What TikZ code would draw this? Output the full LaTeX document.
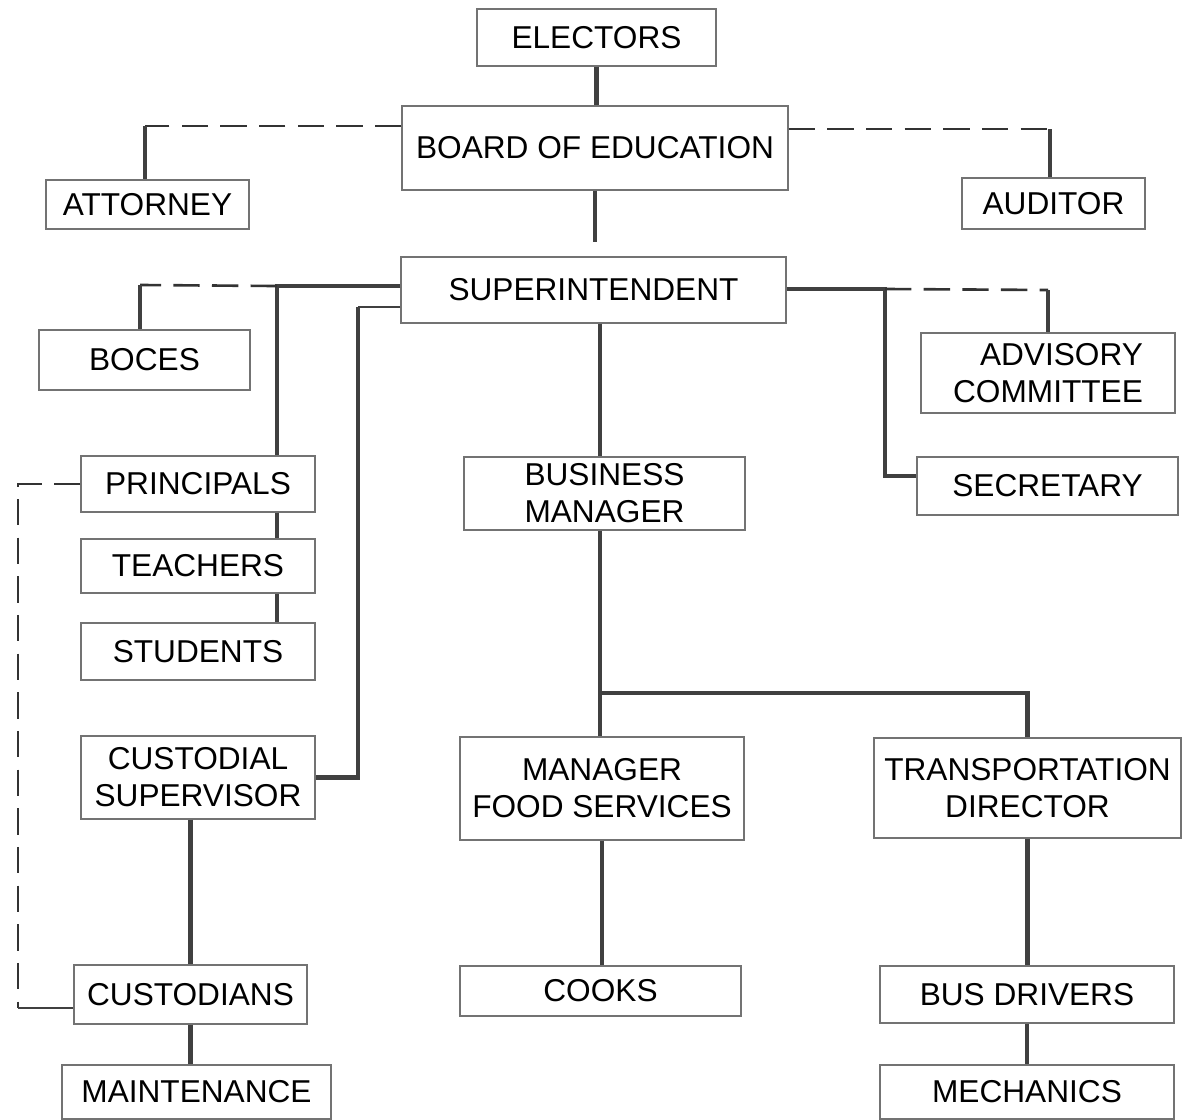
\documentclass[tikz,border=0pt]{standalone}
\usepackage{fontspec}
\setmainfont{Liberation Sans}

\begin{document}
\begin{tikzpicture}[
    x=0.02cm, y=-0.02cm,
    every node/.style={
        draw=black!55,
        line width=0.8pt,
        rectangle,
        align=center,
        inner sep=0pt,
        font=\fontsize{18}{21}\selectfont,
        text=black
    },
    boxsize/.style 2 args={minimum width=#1*0.02cm, minimum height=#2*0.02cm},
    link/.style={line width=2.5pt, draw=black!75},
    thinlink/.style={line width=1.2pt, draw=black!75},
    dashlink/.style={line width=1.5pt, draw=black!80, dash pattern=on 15pt off 7pt}
]
\useasboundingbox (0,0) rectangle (1188,1120);

% ---------- TOP (ELECTORS, BOARD, STAFF)
\node (electors) [boxsize={239}{57}] at (596.5,37.5) {ELECTORS};
\node (board) [boxsize={386}{84}] at (595,148) {BOARD OF EDUCATION};
\node (attorney) [boxsize={203}{49}] at (147.5,204.5) {ATTORNEY};
\node (auditor) [boxsize={183}{51}] at (1053.5,203.5) {AUDITOR};
\node (superint) [boxsize={385}{66}] at (593.5,290) {SUPERINTENDENT};
\node (boces) [boxsize={211}{60}] at (144.5,360) {BOCES};
\node (advisory) [boxsize={254}{80}, align=right] at (1048,373) {ADVISORY\\COMMITTEE};
\node (secretary) [boxsize={261}{58}] at (1047.5,486) {SECRETARY};

% ---------- LEFT COLUMN (SCHOOLS)
\node (principals) [boxsize={234}{56}] at (198,484) {PRINCIPALS};
\node (teachers) [boxsize={234}{54}] at (198,566) {TEACHERS};
\node (students) [boxsize={234}{57}] at (198,651.5) {STUDENTS};
\node (custsup) [boxsize={234}{83}] at (198,777.5) {CUSTODIAL\\SUPERVISOR};
\node (custodians) [boxsize={233}{59}] at (190.5,994.5) {CUSTODIANS};
\node (maintenance) [boxsize={269}{54}] at (196.5,1092) {MAINTENANCE};

% ---------- CENTRE AND RIGHT (BUSINESS)
\node (business) [boxsize={281}{73}] at (604.5,493.5) {BUSINESS\\MANAGER};
\node (foodmgr) [boxsize={284}{103}] at (602,788.5) {MANAGER\\FOOD SERVICES};
\node (cooks) [boxsize={281}{50}] at (600.5,991) {COOKS};
\node (transdir) [boxsize={307}{100}] at (1027.5,788) {TRANSPORTATION\\DIRECTOR};
\node (busdrivers) [boxsize={294}{57}] at (1027,994.5) {BUS DRIVERS};
\node (mechanics) [boxsize={294}{54}] at (1027,1092) {MECHANICS};

% ---------- CORNERS
\coordinate (attk) at (145,126);
\coordinate (audk) at (1050,129);
\coordinate (bock) at (140,285);
\coordinate (prik) at (277,286);
\coordinate (cusk) at (358,307);
\coordinate (seck) at (885,289);
\coordinate (advk) at (1048,290);
\coordinate (busk) at (600,693);
\coordinate (dshk) at (18,484);
\coordinate (dshb) at (18,1008);

% ---------- MAIN LINE
\draw[link] (electors.south) -- (electors.south |- board.north);
\draw[link, shorten >=0.28cm] (board.south) -- (board.south |- superint.north);

% ---------- ATTORNEY / AUDITOR
\draw[dashlink] (board.west |- attk) -- (attk);
\draw[link] (attk) -- (attk |- attorney.north);
\draw[dashlink] (board.east |- audk) -- (audk);
\draw[link] (audk) -- (audk |- auditor.north);

% ---------- SUPERINTENDENT, LEFT
\draw[link] (superint.west |- prik) -- (prik) -- (prik |- principals.north);
\draw[dashlink] (prik) -- (bock);
\draw[link] (bock) -- (bock |- boces.north);
\draw[thinlink] (superint.west |- cusk) -- (cusk);
\draw[link] (cusk) |- (custsup.east);

% ---------- SUPERINTENDENT, RIGHT
\draw[link] (superint.east |- seck) -- (seck) |- ([yshift=0.2cm]secretary.west);
\draw[dashlink] (seck) -- (advk);
\draw[link] (advk) -- (advk |- advisory.north);

% ---------- SCHOOLS
\draw[link] (prik |- principals.south) -- (prik |- teachers.north);
\draw[link] (prik |- teachers.south) -- (prik |- students.north);
\draw[link] (custodians.north |- custsup.south) -- (custodians.north);
\draw[link] (custodians.south) -- (custodians.south |- maintenance.north);
\draw[dashlink] (principals.west) -- (dshk) -- (dshb);
\draw[thinlink] (dshb) -- (custodians.west |- dshb);

% ---------- BUSINESS
\draw[link] (busk |- superint.south) -- (busk |- business.north);
\draw[link] (busk |- business.south) -- (busk) -- (busk |- foodmgr.north);
\draw[link] (busk) -| (transdir.north);
\draw[link] (foodmgr.south) -- (foodmgr.south |- cooks.north);
\draw[link] (transdir.south) -- (transdir.south |- busdrivers.north);
\draw[link] (busdrivers.south) -- (busdrivers.south |- mechanics.north);

\end{tikzpicture}
\end{document}
